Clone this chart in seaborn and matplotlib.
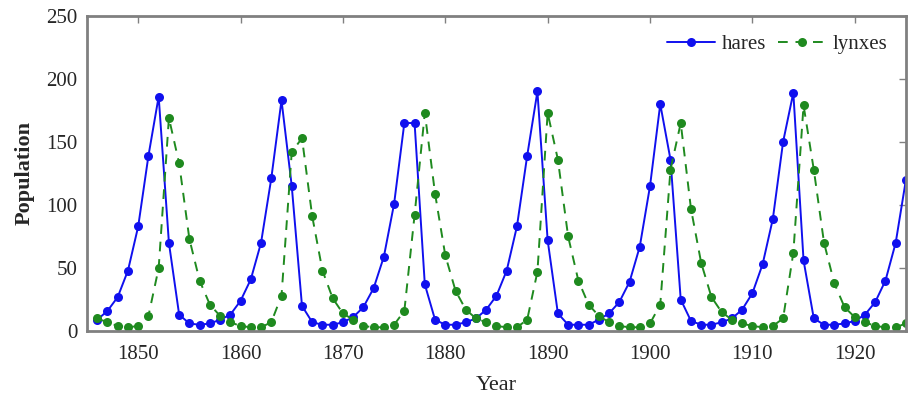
import numpy as np
import pandas as pd
import matplotlib
matplotlib.use("Agg")
import matplotlib.pyplot as plt
import seaborn as sns

years = list(range(1846, 1926))
hares = [9, 16, 27, 48, 83, 139, 186, 70, 13, 6,
         5, 6, 9, 13, 24, 41, 70, 121, 183, 115,
         20, 7, 5, 5, 7, 11, 19, 34, 59, 101,
         165, 165, 37, 9, 5, 5, 7, 10, 17, 28,
         48, 83, 139, 190, 72, 14, 5, 5, 5, 9,
         14, 23, 39, 67, 115, 180, 136, 25, 8, 5,
         5, 7, 10, 17, 30, 53, 89, 150, 189, 56,
         10, 5, 5, 6, 8, 13, 23, 40, 70, 120]
lynxes = [10, 7, 4, 3, 4, 12, 50, 169, 133, 73,
          40, 21, 12, 7, 4, 3, 3, 7, 28, 142,
          153, 91, 48, 26, 14, 9, 4, 3, 3, 5,
          16, 92, 173, 109, 60, 32, 17, 10, 7, 4,
          3, 3, 9, 47, 173, 136, 75, 40, 21, 12,
          7, 4, 3, 3, 6, 21, 128, 165, 97, 54,
          27, 15, 9, 6, 4, 3, 4, 10, 62, 179,
          128, 70, 38, 19, 11, 7, 4, 3, 3, 6]
series_names = ["hares", "lynxes"]
x_ticks = [1850, 1860, 1870, 1880, 1890, 1900, 1910, 1920]
y_ticks = [0, 50, 100, 150, 200, 250]

sns.set_theme(style="white")
plt.rcParams["font.family"] = ["Liberation Serif", "DejaVu Serif"]

fig = plt.figure(figsize=(9.16, 3.96), dpi=100)
ax = fig.add_axes([0.095, 0.164, 0.894, 0.796])

sns.lineplot(x=years, y=hares, ax=ax, color="#1010ee", marker="o",
             markersize=6.5, markeredgewidth=0, linewidth=1.4,
             label=series_names[0])
sns.lineplot(x=years, y=lynxes, ax=ax, color="#1f8a1f", marker="o",
             markersize=6.5, markeredgewidth=0, linewidth=1.4,
             linestyle=(0, (5, 4)), label=series_names[1])

ax.set_xlim(1845, 1925)
ax.set_ylim(0, 250)
ax.set_xticks(x_ticks)
ax.set_yticks(y_ticks)
ax.tick_params(axis="x", pad=10)
ax.tick_params(axis="y", pad=7)
ax.tick_params(axis="both", direction="in", length=5, width=1,
               color="#808080", labelsize=15, top=True, right=True)
for sp in ax.spines.values():
    sp.set_color("#808080")
    sp.set_linewidth(2)

ax.set_xlabel("Year", fontsize=16, labelpad=9)
ax.set_ylabel("Population", fontsize=16, fontweight="bold", labelpad=8)

leg = ax.legend(loc="upper right", frameon=False, fontsize=15,
                handlelength=2.3, handletextpad=0.3, ncol=2,
                columnspacing=0.6, borderaxespad=0.5)

fig.savefig("out.png", dpi=100)
